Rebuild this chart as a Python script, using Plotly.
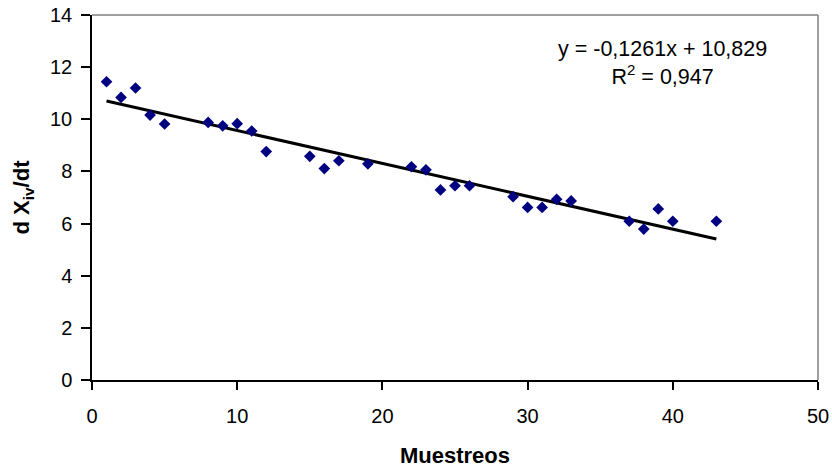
import plotly.graph_objects as go

# Sampling index and measured rate values
muestreos = [1, 2, 3, 4, 5, 8, 9, 10, 11, 12, 15, 16, 17, 19, 22, 23, 24, 25, 26,
             29, 30, 31, 32, 33, 37, 38, 39, 40, 43]
dxiv_dt = [11.44, 10.84, 11.20, 10.16, 9.82, 9.88, 9.75, 9.83, 9.55, 8.76, 8.58,
           8.11, 8.41, 8.29, 8.18, 8.06, 7.29, 7.45, 7.45, 7.03, 6.62, 6.62, 6.93,
           6.87, 6.09, 5.79, 6.56, 6.09, 6.09]

# Linear trend coefficients as reported
slope = -0.1261
intercept = 10.829
r2 = 0.947

x_ticks = [0, 10, 20, 30, 40, 50]
y_ticks = [0, 2, 4, 6, 8, 10, 12, 14]

trend_x = [muestreos[0], muestreos[-1]]
trend_y = [slope * v + intercept for v in trend_x]

FONT = "Liberation Sans, Arial, sans-serif"

fig = go.Figure()
fig.add_trace(go.Scatter(
    x=trend_x, y=trend_y, mode="lines",
    line=dict(color="black", width=3), showlegend=False, hoverinfo="skip"))
fig.add_trace(go.Scatter(
    x=muestreos, y=dxiv_dt, mode="markers",
    marker=dict(symbol="diamond", size=9, color="#000080",
                line=dict(width=0)),
    showlegend=False))

def fmt(v, nd):
    return f"{v:.{nd}f}".replace(".", ",")

eq_text = (f"y = {fmt(slope, 4)}x + {fmt(intercept, 3)}<br>"
           f"R<sup>2</sup> = {fmt(r2, 3)}")

fig.add_annotation(
    x=0.7865, y=0.944, xref="paper", yref="paper", xanchor="center", yanchor="top",
    text=eq_text, showarrow=False, align="center",
    font=dict(family=FONT, size=21.5, color="black"))

# plot-area frame on top and right
fig.add_shape(type="line", xref="paper", yref="paper", x0=0, x1=1, y0=1, y1=1,
              line=dict(color="#808080", width=1.5))
fig.add_shape(type="line", xref="paper", yref="paper", x0=1, x1=1, y0=0, y1=1,
              line=dict(color="#808080", width=1.5))

fig.update_layout(
    width=832, height=470,
    margin=dict(l=92, r=14, t=15, b=90),
    paper_bgcolor="white", plot_bgcolor="white",
    font=dict(family=FONT, size=20, color="black"),
    xaxis=dict(
        range=[0, 50], tickvals=x_ticks, ticks="outside", ticklen=8,
        tickcolor="black", tickwidth=1.5, showline=True, linecolor="black",
        linewidth=1.5, showgrid=False, zeroline=False, ticklabelstandoff=9,
        automargin=False,
        title=dict(text="<b>Muestreos</b>", font=dict(size=22, family=FONT),
                   standoff=22)),
    yaxis=dict(
        range=[0, 14], tickvals=y_ticks, ticks="outside", ticklen=9,
        tickcolor="black", tickwidth=1.5, showline=True, linecolor="black",
        linewidth=1.5, showgrid=False, zeroline=False, ticklabelstandoff=5,
        automargin=False,
        title=dict(text="<b>d X<sub>iv</sub>/dt</b>", font=dict(size=22, family=FONT),
                   standoff=14)),
)

fig.write_html("out.html")
